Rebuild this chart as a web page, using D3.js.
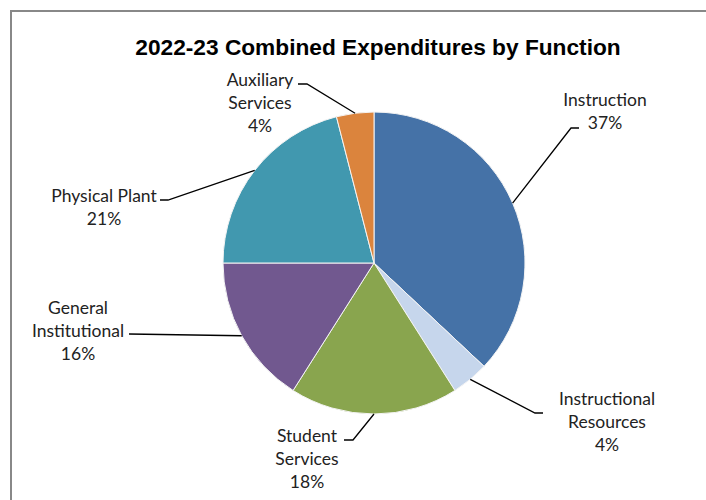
<!DOCTYPE html>
<html>
<head>
<meta charset="utf-8">
<script src="https://cdn.jsdelivr.net/npm/d3@7"></script>
<style>
  html, body { margin: 0; padding: 0; background: #fff; }
  svg { display: block; }
</style>
</head>
<body>
<svg id="chart" width="706" height="500"></svg>
<script>
// Expenditure shares by function (percent of combined total)
const categories = ["Instruction", "Instructional Resources", "Student Services",
                    "General Institutional", "Physical Plant", "Auxiliary Services"];
const shares = [37, 4, 18, 16, 21, 4];
const labelLines = [["Instruction"], ["Instructional", "Resources"], ["Student", "Services"],
                    ["General", "Institutional"], ["Physical Plant"], ["Auxiliary", "Services"]];
const sliceColors = ["#4572A7", "#C6D6EC", "#89A54E", "#71588F", "#4198AF", "#DB843D"];

// Label block placement: centre x, first baseline y, and the leader elbow
// (elbow given as the horizontal stub next to the text)
const labelLayout = [
  { x: 605, y: 105, elbow: [[571, 128], [579, 128]] },
  { x: 607, y: 404, elbow: [[535, 413], [543, 413]] },
  { x: 307, y: 441, elbow: [[353, 440], [344, 440]] },
  { x: 78,  y: 313, elbow: [[129, 334], [129, 334]] },
  { x: 104, y: 201, elbow: [[168, 200], [160, 200]] },
  { x: 260, y: 85,  elbow: [[307, 84], [298, 84]] }
];

const svg = d3.select("#chart");
const cx = 374, cy = 263, radius = 151;
const lineH = 23;

// Chart frame
svg.append("path")
  .attr("d", "M11,520 L11,11 L720,11")
  .attr("fill", "none")
  .attr("stroke", "#888")
  .attr("stroke-width", 2);

// Title
svg.append("text")
  .attr("x", 378)
  .attr("y", 55)
  .attr("text-anchor", "middle")
  .attr("font-family", "Liberation Sans, Arial, sans-serif")
  .attr("font-weight", "bold")
  .attr("font-size", 22.7)
  .attr("fill", "#000")
  .text("2022-23 Combined Expenditures by Function");

const data = categories.map((c, i) => ({ name: c, value: shares[i], i }));
const pie = d3.pie().value(d => d.value).sort(null);
const arcs = pie(data);
const arc = d3.arc().innerRadius(0).outerRadius(radius);

const g = svg.append("g").attr("transform", `translate(${cx},${cy})`);

g.selectAll("path.slice")
  .data(arcs)
  .join("path")
  .attr("class", "slice")
  .attr("d", arc)
  .attr("fill", d => sliceColors[d.data.i])
  .attr("stroke", "#f4f4f4")
  .attr("stroke-width", 1);

// Leader lines from the slice's outer edge (mid-angle) to the label stub
arcs.forEach(a => {
  const mid = (a.startAngle + a.endAngle) / 2;
  const px = cx + radius * Math.sin(mid);
  const py = cy - radius * Math.cos(mid);
  const lay = labelLayout[a.data.i];
  const pts = [[px, py], ...lay.elbow];
  svg.append("path")
    .attr("d", d3.line()(pts))
    .attr("fill", "none")
    .attr("stroke", "#000")
    .attr("stroke-width", 1.3);
});

// Category labels with percentages
arcs.forEach(a => {
  const i = a.data.i;
  const lay = labelLayout[i];
  const lines = labelLines[i].concat([d3.format(".0f")(a.data.value) + "%"]);
  const t = svg.append("text")
    .attr("text-anchor", "middle")
    .attr("font-family", "Lato, 'Open Sans', sans-serif")
    .attr("font-size", 17.5)
    .attr("fill", "#222");
  lines.forEach((ln, k) => {
    t.append("tspan")
      .attr("x", lay.x)
      .attr("y", lay.y + 1 + k * lineH)
      .text(ln);
  });
});
</script>
</body>
</html>
